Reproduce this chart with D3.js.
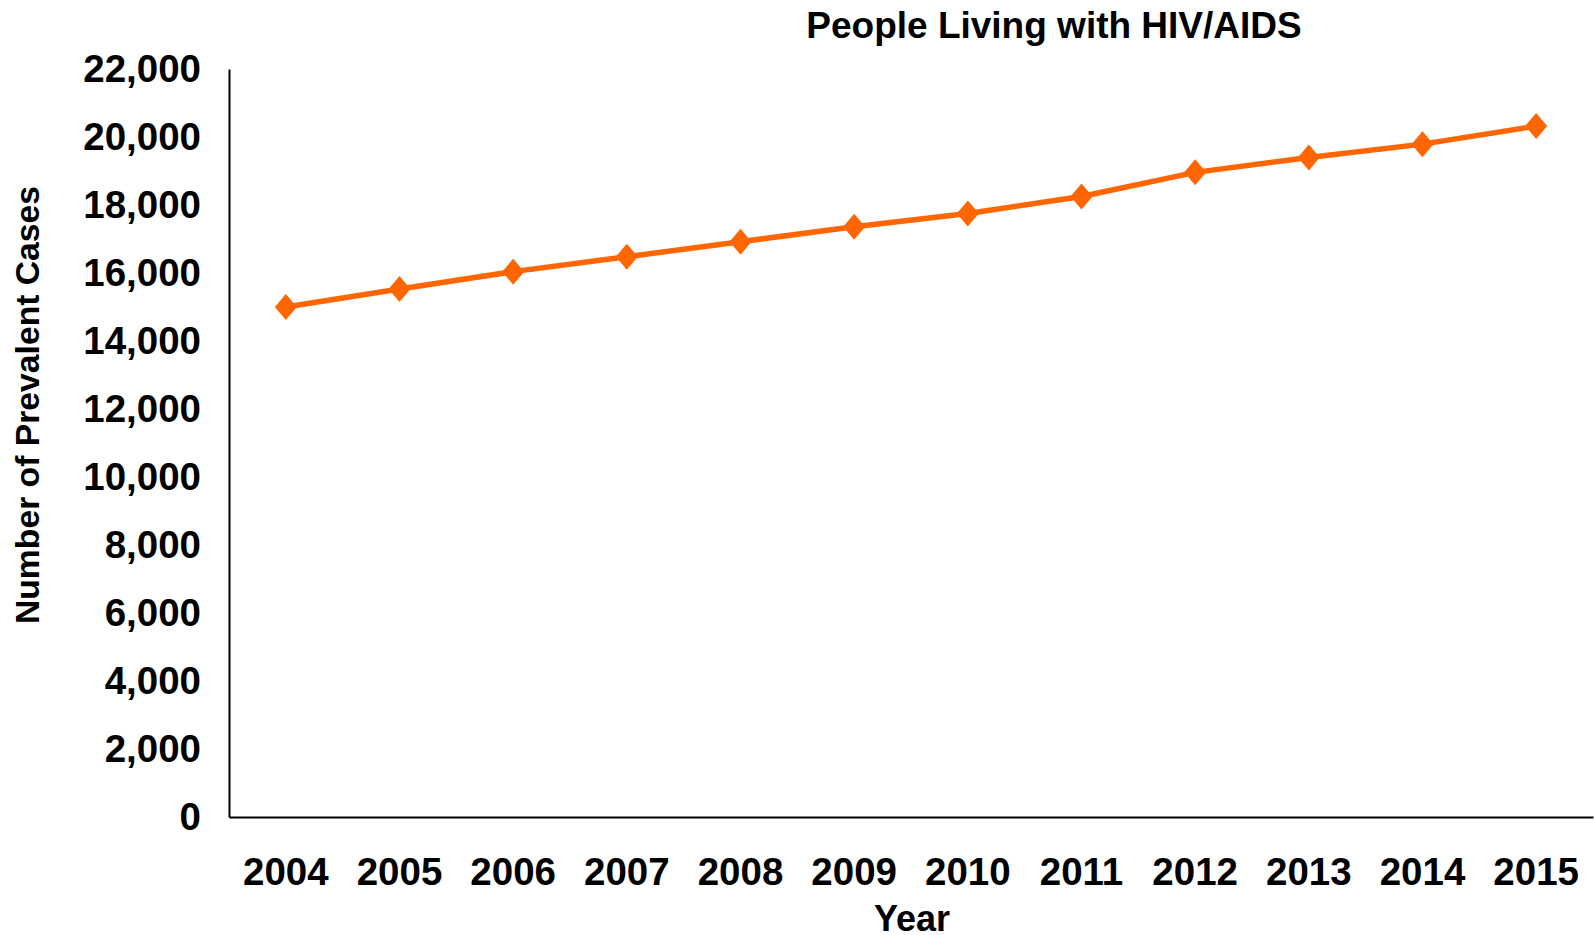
<!DOCTYPE html>
<html>
<head>
<meta charset="utf-8">
<script src="https://cdn.jsdelivr.net/npm/d3@7"></script>
<style>
  body { margin: 0; background: #fff; }
  svg text { font-family: "Liberation Sans", Arial, sans-serif; font-weight: bold; fill: #000; }
</style>
</head>
<body>
<div id="chart"></div>
<script>
// Data
const YEARS = ['2004', '2005', '2006', '2007', '2008', '2009', '2010', '2011', '2012', '2013', '2014', '2015'];
const CASES = [15000, 15530, 16040, 16480, 16920, 17360, 17750, 18250, 18960, 19400, 19790, 20320];
const Y_TICKS = [0, 2000, 4000, 6000, 8000, 10000, 12000, 14000, 16000, 18000, 20000, 22000];

const TITLE = 'People Living with HIV/AIDS';
const X_TITLE = 'Year';
const Y_TITLE = 'Number of Prevalent Cases';

const LINE_COLOR = '#ff6600';

const width = 1594, height = 935;
const margin = { top: 69, right: 1, bottom: 118, left: 229 };

const svg = d3.select('#chart').append('svg')
  .attr('width', width)
  .attr('height', height);

const x = d3.scaleBand()
  .domain(YEARS)
  .range([margin.left, width - margin.right]);

const y = d3.scaleLinear()
  .domain([0, 22000])
  .range([height - margin.bottom, margin.top]);

const fmt = d3.format(',');

// Y axis: line only, labels right-aligned
const yAxis = svg.append('g')
  .attr('transform', `translate(${margin.left},0)`)
  .call(d3.axisLeft(y).tickValues(Y_TICKS).tickFormat(fmt).tickSize(0).tickPadding(28));
yAxis.select('.domain').attr('stroke', '#000').attr('stroke-width', 2);
yAxis.selectAll('text')
  .attr('font-size', 38.5)
  .attr('font-family', '"Liberation Sans", Arial, sans-serif')
  .attr('font-weight', 'bold');

// X axis
const xAxis = svg.append('g')
  .attr('transform', `translate(0,${height - margin.bottom})`)
  .call(d3.axisBottom(x).tickSize(0).tickPadding(41));
xAxis.select('.domain').attr('stroke', '#000').attr('stroke-width', 2);
xAxis.selectAll('text')
  .attr('font-size', 38.5)
  .attr('font-family', '"Liberation Sans", Arial, sans-serif')
  .attr('font-weight', 'bold');

const cx = (d, i) => x(YEARS[i]) + x.bandwidth() / 2;

// Series line
const line = d3.line()
  .x((d, i) => cx(d, i))
  .y(d => y(d));

svg.append('path')
  .datum(CASES)
  .attr('fill', 'none')
  .attr('stroke', LINE_COLOR)
  .attr('stroke-width', 5.5)
  .attr('stroke-linejoin', 'round')
  .attr('d', line);

// Diamond markers
const diamond = 'M0,-13L11,0L0,13L-11,0Z';
svg.append('g').selectAll('path')
  .data(CASES)
  .enter().append('path')
  .attr('d', diamond)
  .attr('fill', LINE_COLOR)
  .attr('transform', (d, i) => `translate(${cx(d, i)},${y(d)})`);

// Titles
svg.append('text')
  .attr('x', 1054)
  .attr('y', 25)
  .attr('text-anchor', 'middle')
  .attr('dominant-baseline', 'central')
  .attr('font-size', 37)
  .text(TITLE);

svg.append('text')
  .attr('x', 912)
  .attr('y', 931)
  .attr('text-anchor', 'middle')
  .attr('font-size', 36)
  .text(X_TITLE);

svg.append('text')
  .attr('transform', `translate(39,405) rotate(-90)`)
  .attr('text-anchor', 'middle')
  .attr('font-size', 33.7)
  .text(Y_TITLE);
</script>
</body>
</html>
